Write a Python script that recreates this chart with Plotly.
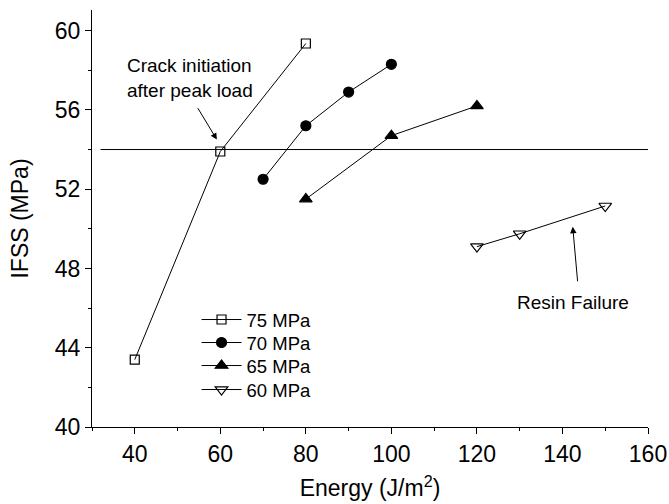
import plotly.graph_objects as go

# Data
series_names = ["75 MPa", "70 MPa", "65 MPa", "60 MPa"]
x_75 = [40, 60, 80]
y_75 = [43.4, 53.9, 59.35]
x_70 = [70, 80, 90, 100]
y_70 = [52.5, 55.2, 56.9, 58.3]
x_65 = [80, 100, 120]
y_65 = [51.5, 54.7, 56.2]
x_60 = [120, 130, 150]
y_60 = [49.1, 49.75, 51.15]
ref_line_x = [32, 160]
ref_line_y = [54, 54]

FONT = "Arial, Liberation Sans, sans-serif"

fig = go.Figure()

fig.add_trace(go.Scatter(x=ref_line_x, y=ref_line_y, mode="lines",
                         line=dict(color="black", width=1), showlegend=False,
                         hoverinfo="skip"))

styles = [
    dict(symbol="square-open", size=9),
    dict(symbol="circle", size=10),
    dict(symbol="triangle-up", size=11),
    dict(symbol="triangle-down-open", size=11),
]
legend_ids = ["legend", "legend2", "legend3", "legend4"]
xs = [x_75, x_70, x_65, x_60]
ys = [y_75, y_70, y_65, y_60]
for name, x, y, st, lg in zip(series_names, xs, ys, styles, legend_ids):
    marker = dict(symbol=st["symbol"], size=st["size"], color="black",
                  line=dict(color="black", width=1.2))
    fig.add_trace(go.Scatter(x=x, y=y, mode="lines+markers", name=name, legend=lg,
                             line=dict(color="black", width=1),
                             marker=marker))

axis_common = dict(
    showline=True, linecolor="black", linewidth=1.3, mirror=False,
    ticks="outside", ticklen=6, tickwidth=1.3, tickcolor="black",
    showgrid=False, zeroline=False, automargin=False,
    tickfont=dict(family=FONT, size=23, color="black"),
)

fig.update_xaxes(range=[30, 160], tick0=40, dtick=20,
                 minor=dict(ticks="outside", ticklen=3, tickwidth=1.3, dtick=10, tick0=30, tickcolor="black"),
                 title=dict(text="Energy (J/m<sup>2</sup>)", font=dict(family=FONT, size=23, color="black"), standoff=14),
                 **axis_common)
fig.update_yaxes(range=[40, 61.04], tick0=40, dtick=4,
                 minor=dict(ticks="outside", ticklen=3, tickwidth=1.3, dtick=2, tick0=40, tickcolor="black"),
                 title=dict(text="IFSS (MPa)", font=dict(family=FONT, size=23, color="black"), standoff=19),
                 **axis_common)

fig.add_annotation(x=37.8, y=57.6, xref="x", yref="y", text="Crack initiation<br>after peak load",
                   showarrow=False, xanchor="left", align="left",
                   font=dict(family=FONT, size=19, color="black"))
fig.add_annotation(x=59.2, y=54.5, xref="x", yref="y", ax=-20, ay=-33, text="",
                   showarrow=True, arrowhead=2, arrowsize=1.3, arrowwidth=1, arrowcolor="black")
fig.add_annotation(x=128.8, y=46.3, xref="x", yref="y", text="Resin Failure",
                   showarrow=False, xanchor="left",
                   font=dict(family=FONT, size=19, color="black"))
fig.add_annotation(x=142.4, y=50.1, xref="x", yref="y", ax=5, ay=56, text="",
                   showarrow=True, arrowhead=2, arrowsize=1.3, arrowwidth=1, arrowcolor="black")

plot_top, plot_bottom = 10, 427
legend_centers_px = [320, 343, 366, 390]
legend_layouts = {}
for lg, py in zip(legend_ids, legend_centers_px):
    legend_layouts[lg] = dict(x=0.188, y=(plot_bottom - py) / (plot_bottom - plot_top),
                              xanchor="left", yanchor="middle", itemwidth=40,
                              bgcolor="rgba(0,0,0,0)",
                              font=dict(family=FONT, size=18.5, color="black"))

fig.update_layout(
    width=669, height=504,
    margin=dict(l=92, r=21, t=10, b=77),
    paper_bgcolor="white", plot_bgcolor="white",
    font=dict(family=FONT, color="black"),
    **legend_layouts,
)

fig.write_html("out.html")
